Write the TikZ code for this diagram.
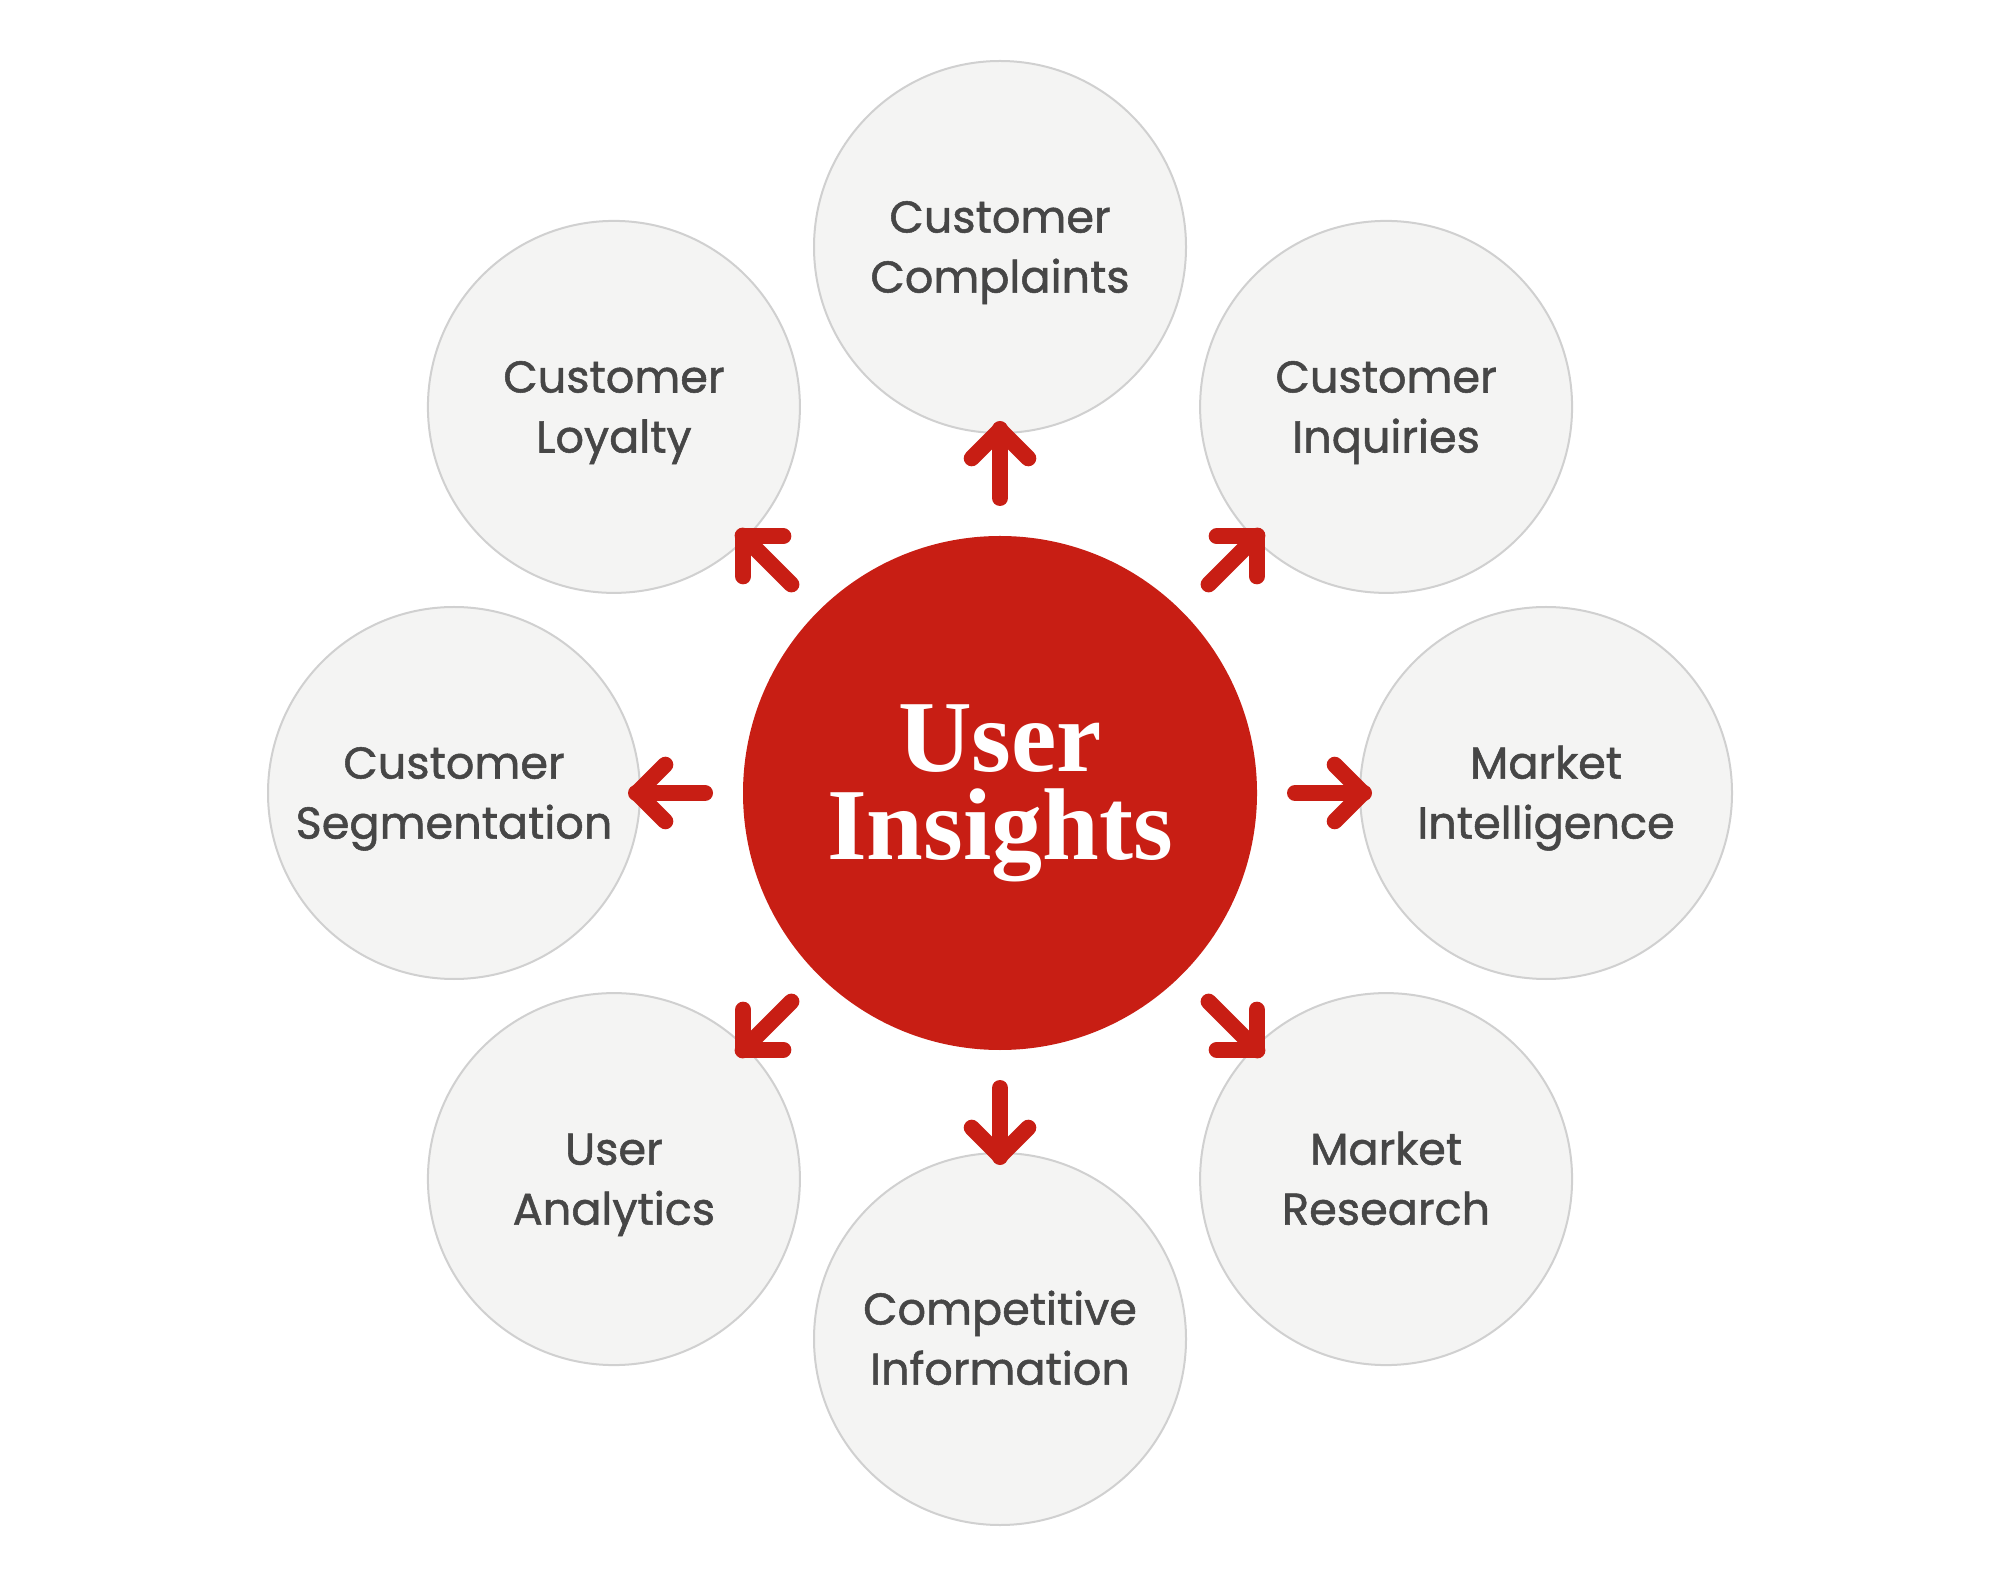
\documentclass[tikz,border=0pt]{standalone}
\usepackage{fontspec}
\setmainfont{Poppins}
\newfontfamily\topicfont{Poppins}[FakeBold=1.2]
\newfontfamily\headfont{Liberation Serif}
\usetikzlibrary{calc}
\definecolor{ired}{RGB}{200,30,20}
\definecolor{cfill}{RGB}{244,244,243}
\definecolor{cline}{RGB}{208,208,208}
\definecolor{ctext}{RGB}{70,70,70}
\begin{document}
\begin{tikzpicture}[x=0.5pt,y=0.5pt,
 hub/.style={circle,fill=ired,inner sep=0pt,outer sep=0pt,minimum size=257pt,text=white,
   font=\headfont\bfseries\fontsize{51}{44}\selectfont,align=center,text height=77.8pt,text depth=11pt},
 topic/.style={circle,fill=cfill,draw=cline,line width=1pt,inner sep=0pt,outer sep=0pt,minimum size=186pt,
   text=ctext,font=\topicfont\fontsize{22.3}{30}\selectfont,align=center,text height=45.6pt,text depth=0pt},
 stem/.style={draw=ired,line width=8pt,line cap=round,line join=round}]
\useasboundingbox (0,0) rectangle (2000,1586);
\fill[white] (0,0) rectangle (2000,1586);
\coordinate (o) at (1000,793);
\foreach \a/\n/\t in {90/n1/{Customer\\Complaints}, 45/n2/{Customer\\Inquiries}, 0/n3/{Market\\Intelligence}, -45/n4/{Market\\Research}, -90/n5/{Competitive\\Information}, -135/n6/{User\\Analytics}, 180/n7/{Customer\\Segmentation}, 135/n8/{Customer\\Loyalty}} {
  \node[topic] (\n) at ([shift={(\a:546)}]o) {\t};
}
\node[hub] (c) at (o) {User\\Insights};
\foreach \n in {n1,n2,n3,n4,n5,n6,n7,n8} {
  \coordinate (t-\n) at ($(c.center)!0.6648!(\n.center)$);
  \draw[stem,shorten <=19pt,shorten >=-2pt] (c) -- (\n);
  \draw[stem] ($(t-\n)!20pt!45:(c.center)$) -- (t-\n) -- ($(t-\n)!20pt!-45:(c.center)$);
}
\end{tikzpicture}
\end{document}
